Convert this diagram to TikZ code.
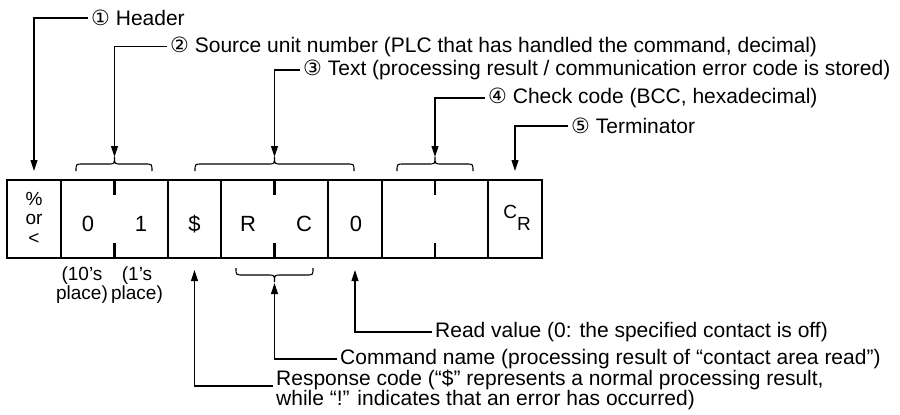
\documentclass[tikz,border=0pt]{standalone}
\usepackage{fontspec}
\setmainfont{Liberation Sans}
\newfontfamily\circfont{DejaVu Sans}
\usetikzlibrary{arrows.meta}
\newcommand\TopBrace[3]{%
  \draw[brc] (#1,171) .. controls (#1,164) .. ({#1+7},164) -- ({#2-7},164)
    .. controls (#2,164) .. (#2,157) .. controls (#2,164) .. ({#2+7},164)
    -- ({#3-7},164) .. controls (#3,164) .. (#3,171);}
\newcommand\BotBrace[3]{%
  \draw[brc] (#1,268) .. controls (#1,275) .. ({#1+7},275) -- ({#2-7},275)
    .. controls (#2,275) .. (#2,282) .. controls (#2,275) .. ({#2+7},275)
    -- ({#3-7},275) .. controls (#3,275) .. (#3,268);}
\begin{document}
\begin{tikzpicture}[x=1pt,y=-1pt,
  cell/.style={draw, line width=2.2pt, minimum height=78pt, inner sep=0pt},
  tick/.style={line width=2.2pt},
  ctext/.style={inner sep=0pt, font=\fontsize{22}{24}\selectfont},
  lbl/.style={anchor=west, inner xsep=3pt, inner ysep=0pt, font=\fontsize{21}{19.5}\selectfont},
  sub/.style={inner sep=0pt, align=center, font=\fontsize{19}{18.5}\selectfont},
  arr/.style={line width=1.1pt, -{Triangle[length=11pt,width=7pt]}},
  brc/.style={line width=1.1pt}]
\useasboundingbox (0,0) rectangle (900,415);
% cells
\node[cell, minimum width=54pt]  (c1) at (34,219) {};
\node[cell, minimum width=107pt] (c2) at (114.5,219) {};
\node[cell, minimum width=53pt]  (c3) at (194.5,219) {};
\node[cell, minimum width=107pt] (c4) at (274.5,219) {};
\node[cell, minimum width=54pt]  (c5) at (355,219) {};
\node[cell, minimum width=106pt] (c6) at (435,219) {};
\node[cell, minimum width=54pt]  (c7) at (515,219) {};
% ticks in double cells
\foreach \c in {c2,c4,c6}{
  \draw[tick] (\c.north) -- ++(0,16);
  \draw[tick] (\c.south) -- ++(0,-16);
}
% cell contents
\node[inner sep=0pt, align=center, font=\fontsize{19}{19.5}\selectfont] (hd) at (34,218) {\%\\or\\<};
\node[ctext] (d0) at (88,224) {0};
\node[ctext] (d1) at (141,224) {1};
\node[ctext] (dl) at (194.5,224) {\$};
\node[ctext] (dr) at (248,224) {R};
\node[ctext] (dc) at (304,224) {C};
\node[ctext] (dz) at (356,224) {0};
\node[inner sep=0pt, font=\fontsize{19}{21}\selectfont] (cr) at (517,218) {\raisebox{0.5ex}{C}\raisebox{-0.75ex}{R}};
% place texts
\node[sub] (p10) at (82,285) {(10’s\\place)};
\node[sub] (p1) at (137,285) {(1’s\\place)};
% braces
\TopBrace{76}{114.5}{152}
\TopBrace{195}{274.5}{354}
\TopBrace{397}{435}{473}
\BotBrace{236}{274.5}{313}
% arrow tips
\coordinate (t1) at (34,171);
\coordinate (t2) at (114.5,157);
\coordinate (t3) at (274.5,157);
\coordinate (t4) at (435,157);
\coordinate (t5) at (515,171);
\coordinate (t6) at (355,270);
\coordinate (t7) at (274.5,283);
\coordinate (t8) at (194.5,270);
% labels
\node[lbl] (l1) at (88,18) {{\circfont ①} Header};
\node[lbl] (l2) at (167,46.7) {{\circfont ②} Source unit number (PLC that has handled the command, decimal)};
\node[lbl] (l3) at (300,70) {{\circfont ③} Text (processing result / communication error code is stored)};
\node[lbl] (l4) at (485,98) {{\circfont ④} Check code (BCC, hexadecimal)};
\node[lbl] (l5) at (568,126) {{\circfont ⑤} Terminator};
\node[lbl] (l6) at (432,332) {Read value (0: the specified contact is off)};
\node[lbl] (l7) at (337,359) {Command name (processing result of “contact area read”)};
\node[lbl, align=left] (l8) at (273,390) {Response code (“\$” represents a normal processing result,\\while “!” indicates that an error has occurred)};
% connectors
\draw[arr] (l1.west) -| (t1);
\draw[arr] (l2.west) -| (t2);
\draw[arr] (l3.west) -| (t3);
\draw[arr] (l4.west) -| (t4);
\draw[arr] (l5.west) -| (t5);
\draw[arr] (l6.west) -| (t6);
\draw[arr] (l7.west) -| (t7);
\draw[arr] ([yshift=4pt]l8.west) -| (t8);
\end{tikzpicture}
\end{document}
